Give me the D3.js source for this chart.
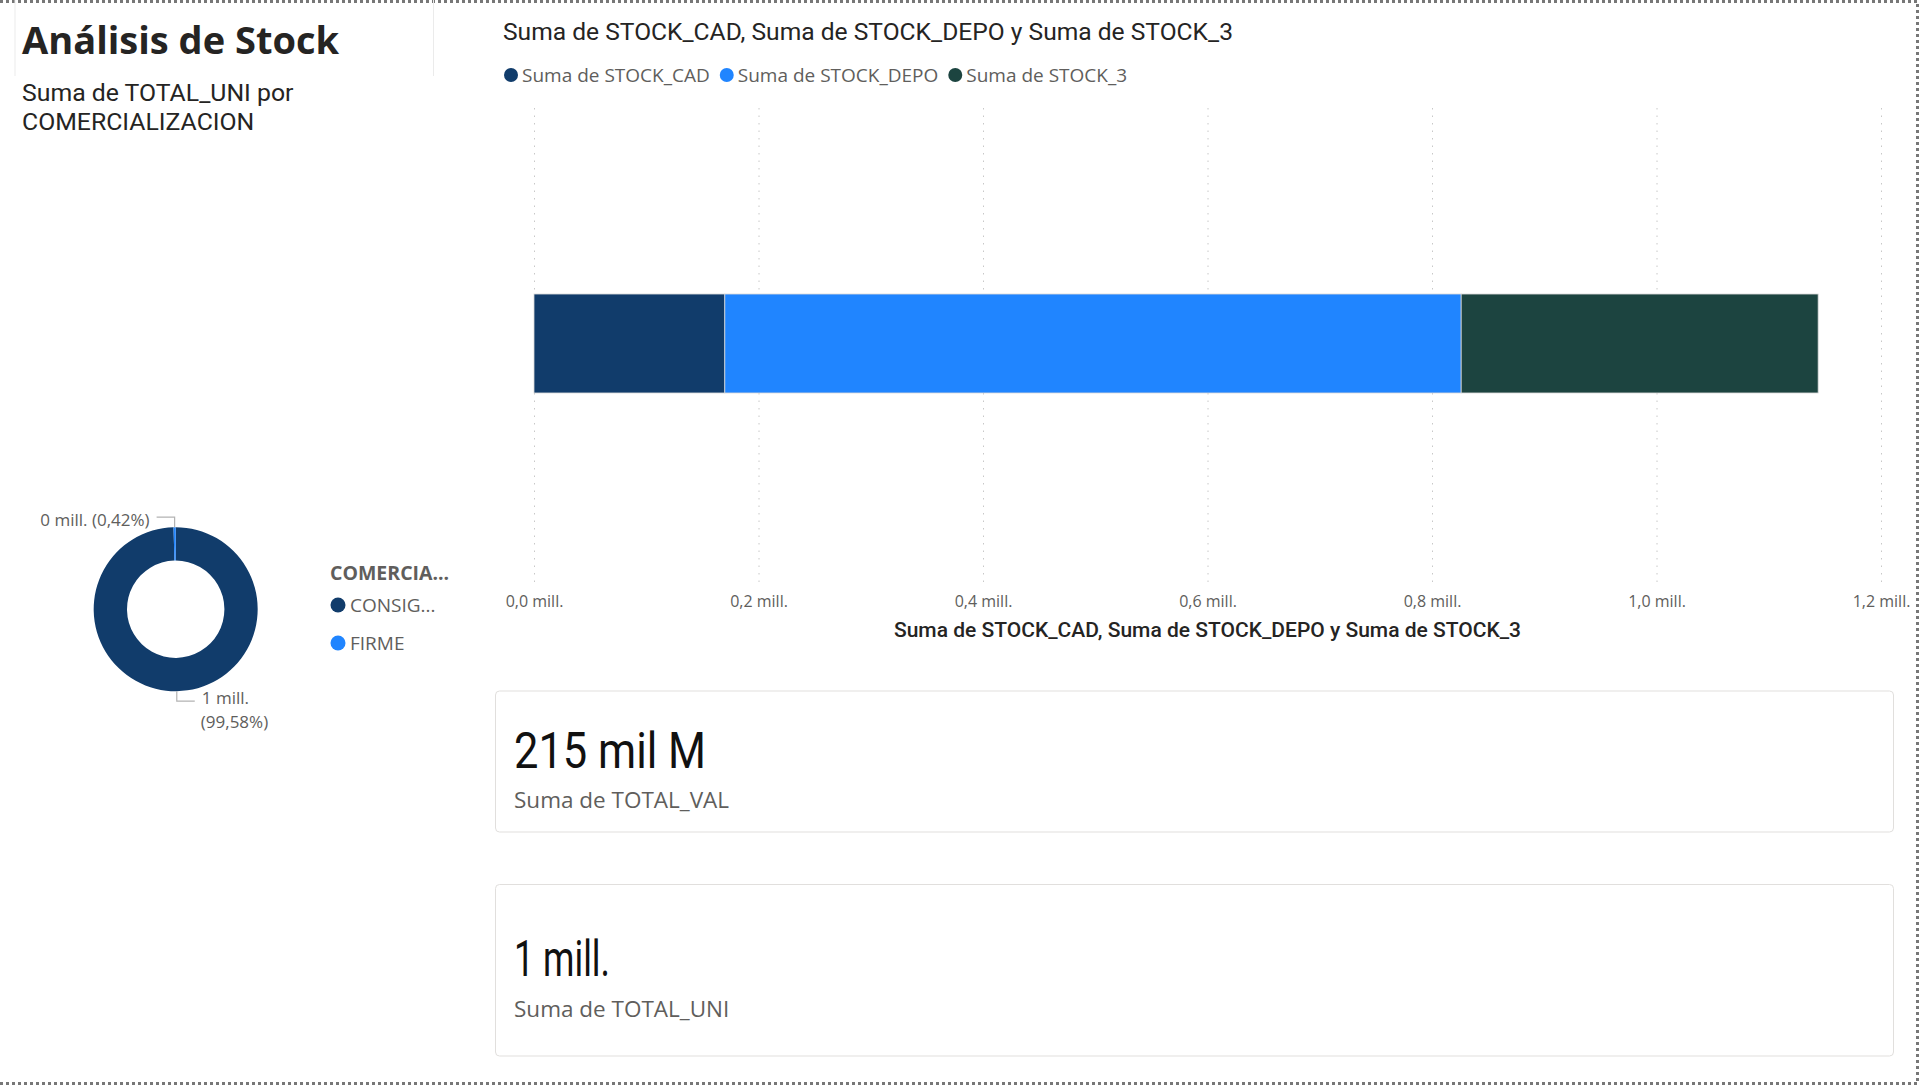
<!DOCTYPE html>
<html>
<head>
<meta charset="utf-8">
<script src="https://cdn.jsdelivr.net/npm/d3@7"></script>
<style>
  html, body { margin: 0; padding: 0; background: #fff; }
  svg { display: block; }
  .seg { font-family: "Segoe UI", "Open Sans", sans-serif; }
  .din { font-family: Roboto, "Open Sans", sans-serif; }
</style>
</head>
<body>
<svg id="page" width="1921" height="1086"></svg>
<script>
(function(){
"use strict";

// ---- data ----
var stockSeries = ["Suma de STOCK_CAD", "Suma de STOCK_DEPO", "Suma de STOCK_3"];
var stockValues = [170000, 656000, 318000];
var stockColors = ["#113c6b", "#2085ff", "#1c4440"];
var axisTicks = [0, 200000, 400000, 600000, 800000, 1000000, 1200000];

var comCategories = ["CONSIGNACION", "FIRME"];
var comLegendLabels = ["CONSIG...", "FIRME"];
var comValues = [1139200, 4800];
var comColors = ["#113c6b", "#2085ff"];

var kpiValues = ["215 mil M", "1 mill."];
var kpiLabels = ["Suma de TOTAL_VAL", "Suma de TOTAL_UNI"];

var svg = d3.select("#page");
var gray = "#605e5c";

var millFmt = function(v){
    return d3.format(".1f")(v / 1e6).replace(".", ",") + " mill.";
};

// squeeze DIN-ish text to the width it has in the report
function fit(sel, w){
    var nat = sel.node().getComputedTextLength();
    if (nat > w) sel.attr("textLength", w).attr("lengthAdjust", "spacingAndGlyphs");
    return sel;
}

// page border (dotted, top / right / bottom)
svg.append("path")
    .attr("d", "M0,1.5 H1917.5 V1083.5 H0")
    .attr("fill", "none")
    .attr("stroke", "#777")
    .attr("stroke-width", 3)
    .attr("stroke-dasharray", "3,3");

// title box
svg.append("path")
    .attr("d", "M15,0 V76 M433.5,0 V76")
    .attr("stroke", "#ebebeb")
    .attr("fill", "none");

svg.append("text")
    .attr("class", "seg")
    .attr("x", 22)
    .attr("y", 54)
    .attr("font-size", 38)
    .attr("font-weight", 700)
    .attr("fill", "#252423")
    .text("Análisis de Stock");

var sub = svg.append("text")
    .attr("class", "din")
    .attr("font-size", 24.8)
    .attr("fill", "#252423");
sub.append("tspan").attr("x", 22).attr("y", 101).text("Suma de TOTAL_UNI por");
sub.append("tspan").attr("x", 22).attr("y", 130).text("COMERCIALIZACION");

/* ---------- stacked bar ---------- */
var x = d3.scaleLinear().domain([0, 1200000]).range([534, 1881]);
var y = d3.scaleBand().domain(["total"]).range([106, 581]).paddingOuter(1.9);

svg.append("text")
    .attr("class", "din")
    .attr("x", 503)
    .attr("y", 40)
    .attr("font-size", 24.6)
    .attr("fill", "#252423")
    .text("Suma de STOCK_CAD, Suma de STOCK_DEPO y Suma de STOCK_3");

// legend
var lx = 511;
stockSeries.forEach(function(name, i){
    var g = svg.append("g").attr("transform", "translate(" + lx + ",75)");
    g.append("circle").attr("r", 7).attr("fill", stockColors[i]);
    var t = g.append("text")
        .attr("class", "seg")
        .attr("x", 11)
        .attr("dy", "0.35em")
        .attr("font-size", 19)
        .attr("fill", gray)
        .text(name);
    lx += 11 + t.node().getComputedTextLength() + 17;
});

// grid
var grid = svg.append("g")
    .attr("transform", "translate(0,582)")
    .call(d3.axisBottom(x).tickValues(axisTicks).tickSize(-474).tickFormat(millFmt));
grid.select(".domain").remove();
grid.selectAll(".tick line")
    .attr("stroke", "#c8c8c8")
    .attr("stroke-dasharray", "1.5,6");
grid.selectAll(".tick text")
    .attr("class", "seg")
    .attr("font-size", 16)
    .attr("fill", gray)
    .attr("y", 14);

svg.append("text")
    .attr("class", "din")
    .attr("x", (x.range()[0] + x.range()[1]) / 2)
    .attr("y", 637)
    .attr("text-anchor", "middle")
    .attr("font-size", 21)
    .attr("font-weight", 500)
    .attr("fill", "#252423")
    .text("Suma de STOCK_CAD, Suma de STOCK_DEPO y Suma de STOCK_3");

var stackRows = [stockValues.reduce(function(o, v, i){ o[stockSeries[i]] = v; return o; }, {})];
var stacked = d3.stack().keys(stockSeries)(stackRows);

svg.append("g").selectAll("rect")
    .data(stacked)
    .join("rect")
    .attr("x", function(d){ return x(d[0][0]); })
    .attr("width", function(d){ return x(d[0][1]) - x(d[0][0]); })
    .attr("y", y("total"))
    .attr("height", y.bandwidth())
    .attr("fill", function(d, i){ return stockColors[i]; })
    .attr("stroke", "#d8d8d8")
    .attr("stroke-width", 0.8);

/* ---------- donut ---------- */
var cx = 175.7, cy = 609.2, R = 82, r0 = 48.7;
var pie = d3.pie().sort(null).value(function(d){ return d; });
var arcs = pie(comValues);
var arc = d3.arc().innerRadius(r0).outerRadius(R);
var total = d3.sum(comValues);

var donut = svg.append("g").attr("transform", "translate(" + cx + "," + cy + ")");
donut.selectAll("path")
    .data(arcs)
    .join("path")
    .attr("d", arc)
    .attr("fill", function(d, i){ return comColors[i]; });

var pctFmt = function(v){ return d3.format(".2f")(v * 100).replace(".", ",") + "%"; };
var labelFmt = function(v){ return Math.round(v / 1e6) + " mill."; };

arcs.forEach(function(a, i){
    var mid = (a.startAngle + a.endAngle) / 2;
    var px = R * Math.sin(mid), py = -R * Math.cos(mid);
    var up = py < 0;
    var ey = py + (up ? -10 : 10);
    var left = up;
    var ex = px + (left ? -18 : 18);
    donut.append("path")
        .attr("d", "M" + px + "," + py + " V" + ey + " H" + ex)
        .attr("fill", "none")
        .attr("stroke", "#b3b3b3")
        .attr("stroke-width", 1.2);
    var t = donut.append("text")
        .attr("class", "seg")
        .attr("font-size", 17)
        .attr("fill", gray);
    if (left) {
        t.attr("x", ex - 7).attr("y", ey + 3).attr("dy", "0.35em").attr("text-anchor", "end")
            .text(labelFmt(comValues[i]) + " (" + pctFmt(comValues[i] / total) + ")");
    } else {
        t.append("tspan").attr("x", ex + 7).attr("y", ey).attr("dy", "0.15em")
            .text(labelFmt(comValues[i]));
        t.append("tspan").attr("x", ex + 6).attr("y", ey + 24).attr("dy", "0.15em")
            .text("(" + pctFmt(comValues[i] / total) + ")");
    }
});

// donut legend
svg.append("text")
    .attr("class", "seg")
    .attr("x", 330)
    .attr("y", 573)
    .attr("dy", "0.35em")
    .attr("font-size", 19.5)
    .attr("font-weight", 700)
    .attr("fill", gray)
    .text("COMERCIA...");
comCategories.forEach(function(c, i){
    var g = svg.append("g").attr("transform", "translate(338," + (605 + i * 38) + ")");
    g.append("circle").attr("r", 7.5).attr("fill", comColors[i]);
    g.append("text")
        .attr("class", "seg")
        .attr("x", 12)
        .attr("dy", "0.35em")
        .attr("font-size", 19)
        .attr("fill", gray)
        .text(comLegendLabels[i]);
});

/* ---------- KPI cards ---------- */
var cards = [
    { y: 691, h: 141, num: 768, lab: 808, w: 192 },
    { y: 884.5, h: 171.5, num: 976, lab: 1017, w: 96 }
];
cards.forEach(function(c, i){
    svg.append("rect")
        .attr("x", 495.5).attr("y", c.y)
        .attr("width", 1398).attr("height", c.h)
        .attr("rx", 4)
        .attr("fill", "#fff")
        .attr("stroke", "#e1dfdd");
    fit(svg.append("text")
        .attr("class", "din")
        .attr("x", 514).attr("y", c.num)
        .attr("font-size", 50)
        .attr("fill", "#111")
        .text(kpiValues[i]), c.w);
    svg.append("text")
        .attr("class", "seg")
        .attr("x", 514).attr("y", c.lab)
        .attr("font-size", 22.5)
        .attr("fill", gray)
        .text(kpiLabels[i]);
});

})();
</script>
</body>
</html>
